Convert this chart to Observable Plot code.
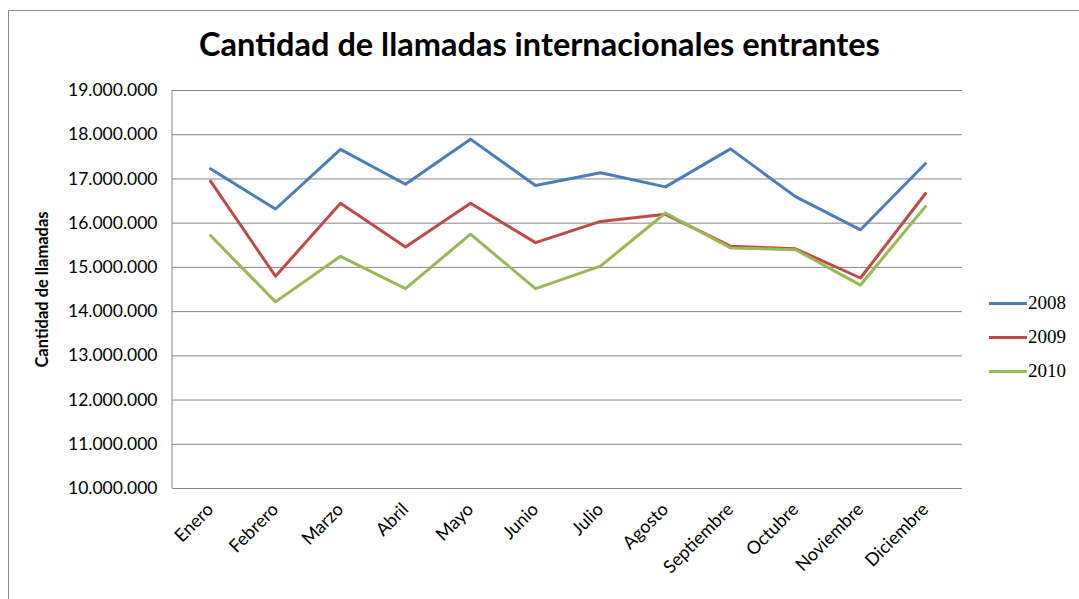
<!DOCTYPE html>
<html>
<head>
<meta charset="utf-8">
<script src="https://cdn.jsdelivr.net/npm/d3@7"></script>
<script src="https://cdn.jsdelivr.net/npm/@observablehq/plot@0.6"></script>
<style>
  html, body { margin: 0; padding: 0; background: #fff; }
  #wrap { position: relative; width: 1079px; height: 599px; overflow: hidden; font-family: Lato, "Open Sans", sans-serif; }
  #border { position: absolute; left: 8px; top: 10px; width: 1200px; height: 700px; border-left: 1px solid #8a8a8a; border-top: 1px solid #8a8a8a; }
  #title { position: absolute; left: 0; width: 1079px; top: 24px; text-align: center; font-size: 32.5px; font-weight: bold; color: #000; line-height: 40px; }
  #chart { position: absolute; left: 0; top: 0; }
  #legend { position: absolute; left: 989px; top: 286px; font-family: "Liberation Serif", serif; font-size: 19px; color: #000; }
  .li { display: flex; align-items: center; height: 34px; }
  .sw { width: 38px; height: 3px; margin-right: 1px; }
</style>
</head>
<body>
<div id="wrap">
  <div id="border"></div>
  <div id="chart"></div>
  <div id="title">Cantidad de llamadas internacionales entrantes</div>
  <div id="legend"></div>
</div>
<script>
const months = ["Enero","Febrero","Marzo","Abril","Mayo","Junio","Julio","Agosto","Septiembre","Octubre","Noviembre","Diciembre"];
const years = ["2008","2009","2010"];
const colors = ["#4a7ebb","#be4b48","#98b954"];
const v2008 = [17230000,16320000,17670000,16880000,17900000,16850000,17140000,16820000,17680000,16600000,15850000,17350000];
const v2009 = [16950000,14800000,16450000,15460000,16450000,15560000,16040000,16200000,15480000,15420000,14760000,16670000];
const v2010 = [15720000,14220000,15250000,14520000,15750000,14520000,15030000,16230000,15440000,15400000,14600000,16380000];
const yTicks = [10000000,11000000,12000000,13000000,14000000,15000000,16000000,17000000,18000000,19000000];

const series = [v2008, v2009, v2010];
const data = years.flatMap((yr, i) => months.map((m, j) => ({year: yr, month: m, value: series[i][j]})));
const fmt = d => d3.format(",")(d).replace(/,/g, ".");

const leftAxisLine = (index, scales, values, dims) => {
  const l = d3.create("svg:line")
    .attr("x1", dims.marginLeft).attr("x2", dims.marginLeft)
    .attr("y1", scales.y(yTicks[yTicks.length - 1])).attr("y2", scales.y(yTicks[0]))
    .attr("stroke", "#868686").attr("stroke-width", 1);
  return l.node();
};

const chart = Plot.plot({
  width: 1079,
  height: 599,
  marginLeft: 172,
  marginRight: 117,
  marginTop: 90,
  marginBottom: 111,
  style: {fontFamily: "Lato, 'Open Sans', sans-serif", background: "transparent", color: "#000"},
  x: {type: "point", domain: months, padding: 0.5},
  y: {domain: [10000000, 19000000]},
  color: {domain: years, range: colors},
  marks: [
    Plot.ruleY(yTicks, {stroke: "#868686", strokeWidth: 1, strokeOpacity: 1}),
    leftAxisLine,
    Plot.axisY({ticks: yTicks, tickFormat: fmt, tickSize: 0, tickPadding: 15, fontSize: 17.5,
      label: "Cantidad de llamadas", labelAnchor: "center", labelOffset: 136, labelArrow: "none"}),
    Plot.axisX({tickSize: 0, tickPadding: 18, tickRotate: -45, fontSize: 18, label: null}),
    Plot.line(data, {x: "month", y: "value", z: "year", stroke: "year", strokeWidth: 3, curve: "linear"})
  ]
});
document.getElementById("chart").appendChild(chart);

// style y-axis label
chart.querySelectorAll("g[aria-label='y-axis label'] text").forEach(t => {
  t.setAttribute("font-weight", "bold");
  t.setAttribute("font-size", "16.5");
});

const legend = document.getElementById("legend");
years.forEach((yr, i) => {
  const row = document.createElement("div");
  row.className = "li";
  const sw = document.createElement("div");
  sw.className = "sw";
  sw.style.background = colors[i];
  const tx = document.createElement("span");
  tx.textContent = yr;
  row.appendChild(sw); row.appendChild(tx);
  legend.appendChild(row);
});
</script>
</body>
</html>
